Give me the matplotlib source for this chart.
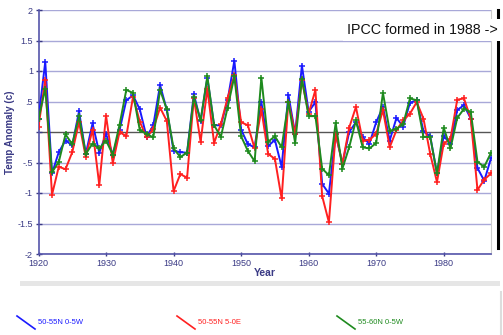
import matplotlib
matplotlib.use('Agg')
from matplotlib import pyplot as plt
from matplotlib.lines import Line2D
from matplotlib.patches import Rectangle
import numpy as np

plt.rcParams['font.family'] = ['Liberation Sans', 'DejaVu Sans']

years = list(range(1920, 1988))
series_names = ['50-55N 0-5W', '50-55N 5-0E', '55-60N 0-5W']

blue_vals = [0.22, 1.15, -0.68, -0.33, -0.14, -0.22, 0.34, -0.36, 0.14, -0.34,
             -0.03, -0.37, 0.03, 0.52, 0.60, 0.37, -0.08, 0.11, 0.77, 0.36,
             -0.31, -0.33, -0.34, 0.62, 0.18, 0.89, 0.11, 0.11, 0.52, 1.17,
             0.04, -0.20, -0.25, 0.49, -0.23, -0.13, -0.57, 0.61, -0.03, 1.09,
             0.33, 0.49, -0.85, -1.01, -0.03, -0.52, 0.00, 0.16, -0.09, -0.19,
             0.16, 0.41, -0.14, 0.23, 0.09, 0.48, 0.52, 0.01, -0.07, -0.68,
             -0.07, -0.19, 0.36, 0.44, 0.22, -0.59, -0.80, -0.43]

red_vals = [0.09, 0.85, -1.03, -0.57, -0.61, -0.33, 0.16, -0.41, 0.04, -0.87,
            0.27, -0.51, 0.00, -0.07, 0.58, 0.17, -0.09, 0.05, 0.40, 0.18,
            -0.97, -0.69, -0.75, 0.56, -0.16, 0.71, -0.18, 0.13, 0.56, 0.93,
            0.16, 0.11, -0.27, 0.37, -0.36, -0.44, -1.09, 0.50, -0.03, 0.85,
            0.30, 0.69, -1.05, -1.48, -0.03, -0.52, 0.07, 0.41, -0.14, -0.13,
            -0.03, 0.36, -0.25, 0.03, 0.19, 0.30, 0.49, 0.22, -0.36, -0.82,
            -0.19, -0.11, 0.53, 0.55, 0.22, -0.95, -0.78, -0.68]

green_vals = [0.22, 0.71, -0.66, -0.49, -0.04, -0.20, 0.26, -0.36, -0.19, -0.27,
              -0.14, -0.37, 0.12, 0.69, 0.64, 0.03, -0.03, -0.09, 0.69, 0.37,
              -0.27, -0.41, -0.34, 0.57, 0.19, 0.91, 0.11, -0.08, 0.40, 0.91,
              -0.07, -0.31, -0.48, 0.89, -0.16, -0.07, -0.25, 0.49, -0.18, 0.87,
              0.26, 0.26, -0.60, -0.71, 0.15, -0.60, -0.25, 0.19, -0.25, -0.27,
              -0.18, 0.64, 0.02, 0.05, 0.13, 0.55, 0.52, -0.08, -0.08, -0.68,
              0.07, -0.27, 0.23, 0.38, 0.33, -0.49, -0.57, -0.34]

yticks = [2, 1.5, 1, 0.5, 0, -0.5, -1, -1.5, -2]
ytick_labels = ['2', '1.5', '1', '.5', '', '-.5', '-1', '-1.5', '-2']
xticks = [1920, 1930, 1940, 1950, 1960, 1970, 1980]

colors = ['#1a1aff', '#ff2020', '#1e8a1e']
navy = '#3a3a85'

fig = plt.figure(figsize=(5.03, 3.35), dpi=100)
ax = fig.add_axes([38.5 / 503, 1 - 254 / 335, (491 - 38.5) / 503, 244 / 335])

for yv in yticks:
    if yv == 0:
        ax.axhline(0, color='#555555', lw=1.0, zorder=1)
    else:
        ax.axhline(yv, color='#a8a8d8', lw=1.0, zorder=1)

order = [1, 0, 2]
data = [blue_vals, red_vals, green_vals]
for i in order:
    ax.plot(years, data[i], color=colors[i], lw=1.4, marker='+', ms=5,
            mew=1.1, zorder=3 + i)

ax.set_xlim(1920, 1987)
ax.set_ylim(-2, 2)
ax.set_yticks(yticks)
ax.set_yticklabels(ytick_labels)
ax.set_xticks(xticks)
ax.tick_params(axis='both', colors=navy, labelsize=6.5, length=3, width=1,
               direction='inout', pad=2)
ax.tick_params(axis='y', length=4)
ax.spines['top'].set_visible(False)
ax.spines['right'].set_color('#cccccc')
ax.spines['left'].set_color('#5555aa')
ax.spines['bottom'].set_color('#5555aa')
ax.spines['left'].set_linewidth(1.2)
ax.spines['bottom'].set_linewidth(1.2)

ax.set_ylabel('Temp Anomaly (c)', color=navy, fontsize=7, fontweight='bold',
              labelpad=2)
ax.set_xlabel('Year', color=navy, fontsize=7.5, fontweight='bold', labelpad=0)

# annotation box
fig.text(347 / 503, 1 - 30 / 335, 'IPCC formed in 1988 ->', fontsize=10.3,
         va='center', ha='left', color='#111111', zorder=10,
         bbox=dict(facecolor='white', edgecolor='none', pad=3))
fig.add_artist(Line2D([498 / 503, 498 / 503], [1 - 10 / 335, 1 - 248 / 335],
                      color='black', lw=2.2))

# shadow under chart
fig.add_artist(Rectangle((20 / 503, 1 - 286 / 335), 480 / 503, 5 / 335,
                         facecolor='#e6e6e6', edgecolor='none'))
fig.add_artist(Line2D([501 / 503, 501 / 503], [1 - 292 / 335, 0],
                      color='#dddddd', lw=1.5))

# legend
leg_x = [17, 177, 337]
for i, name in enumerate(series_names):
    x0 = leg_x[i]
    fig.add_artist(Line2D([x0 / 503, (x0 + 18) / 503],
                          [1 - 316 / 335, 1 - 329 / 335],
                          color=colors[i], lw=1.2))
    fig.text((x0 + 21) / 503, 1 - 322 / 335, name, color=colors[i],
             fontsize=5.5, va='center', ha='left')

fig.savefig('out.png', dpi=100)
